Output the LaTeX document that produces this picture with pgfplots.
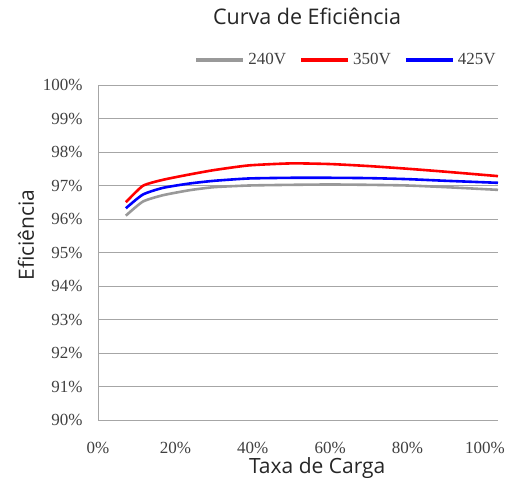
\documentclass[border=0pt]{standalone}
\usepackage{fontspec}
\setmainfont{Liberation Serif}
\newfontfamily\sansf{Open Sans}
\usepackage{pgfplots}
\pgfplotsset{compat=1.18}
\definecolor{gline}{HTML}{999999}
\definecolor{gridc}{HTML}{A6A6A6}
\definecolor{tickc}{HTML}{404040}
\begin{document}
\begin{tikzpicture}[x=1pt,y=1pt]
\useasboundingbox (0,0) rectangle (522,482);
\begin{axis}[
  at={(98pt,62pt)}, anchor=south west,
  scale only axis, width=400pt, height=335pt,
  xmin=0, xmax=103.4, ymin=90, ymax=100,
  xtick={0,20,...,100}, ytick={90,91,...,100},
  xticklabel={\pgfmathprintnumber{\tick}\%},
  yticklabel={\pgfmathprintnumber{\tick}\%},
  /pgf/number format/assume math mode=true,
  axis x line*=bottom, axis y line*=left,
  ymajorgrids, grid style={gridc, line width=0.8pt},
  axis line style={gridc, line width=0.8pt},
  major tick length=0pt,
  tick label style={font=\fontsize{17}{17}\selectfont, text=tickc},
  xticklabel style={yshift=-19pt},
  yticklabel style={xshift=-12pt},
  xlabel={Taxa de Carga}, ylabel={Eficiência},
  label style={font=\sansf\fontsize{21}{21}\selectfont, text=black!85},
  xlabel style={at={(axis description cs:0.548,-0.143)}, anchor=center},
  ylabel style={at={(axis description cs:-0.18,0.552)}, anchor=center},
  title={Curva de Eficiência},
  title style={font=\sansf\fontsize{21.5}{21.5}\selectfont, text=black!85, at={(axis description cs:0.5225,1.188)}, anchor=center},
  legend columns=3,
  legend style={at={(axis description cs:0.62,1.075)}, anchor=center, draw=none, fill=none,
    font=\fontsize{17}{17}\selectfont, text=tickc,
    /tikz/every odd column/.append style={column sep=1pt},
    /tikz/every even column/.append style={column sep=11pt},
    inner sep=0pt},
  legend image code/.code={\draw[#1, line width=4pt] (0pt,0pt) -- (47pt,0pt);},
  every axis plot/.append style={line width=2.6pt, smooth, tension=0.35},
]
\addplot[gline] coordinates {(7.2,96.10) (11.6,96.52) (16.8,96.71) (23.7,96.86) (30,96.95) (39,97.00) (50,97.02) (60,97.03) (70,97.02) (80,97.00) (90,96.95) (103.4,96.87)};
\addlegendentry{240V}
\addplot[red] coordinates {(7.2,96.50) (11.6,96.99) (16.8,97.17) (23.7,97.33) (30,97.46) (39,97.60) (50,97.66) (60,97.64) (70,97.58) (80,97.50) (90,97.41) (103.4,97.28)};
\addlegendentry{350V}
\addplot[blue] coordinates {(7.2,96.32) (11.6,96.73) (16.8,96.93) (23.7,97.06) (30,97.14) (39,97.21) (50,97.23) (60,97.23) (70,97.22) (80,97.19) (90,97.14) (103.4,97.08)};
\addlegendentry{425V}
\end{axis}
\end{tikzpicture}
\end{document}
